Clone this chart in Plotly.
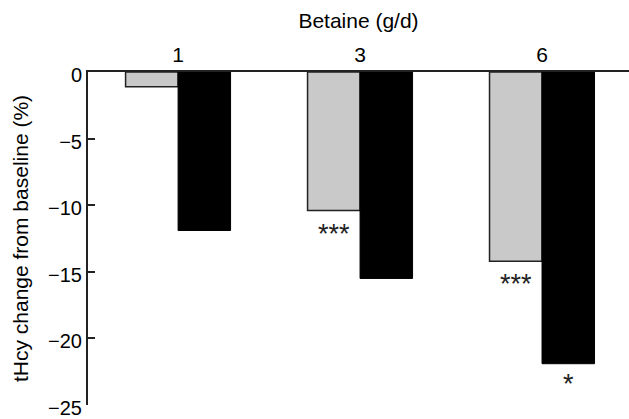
import plotly.graph_objects as go

doses = ["1", "3", "6"]
gray_vals = [-1.1, -10.4, -14.2]
black_vals = [-11.9, -15.5, -21.9]
gray_sig = ["", "***", "***"]
black_sig = ["", "", "*"]
y_ticks = [0, -5, -10, -15, -20, -25]

FONT = "Liberation Sans, Arial, Helvetica, sans-serif"
idx = list(range(len(doses)))
bargap = 0.423
bw = (1 - bargap) / 2

fig = go.Figure()
fig.add_trace(go.Bar(x=idx, y=gray_vals, marker=dict(color="#c9c9c9", line=dict(color="#222", width=1.5)),
                     showlegend=False))
fig.add_trace(go.Bar(x=idx, y=black_vals, marker=dict(color="#000000", line=dict(color="#000", width=1)),
                     showlegend=False))

for i, (g, b, gs, bs) in enumerate(zip(gray_vals, black_vals, gray_sig, black_sig)):
    if gs:
        fig.add_annotation(x=i - bw / 2, y=g, text=gs, showarrow=False, yanchor="top", yshift=-6,
                           font=dict(size=27, color="#222", family=FONT))
    if bs:
        fig.add_annotation(x=i + bw / 2, y=b, text=bs, showarrow=False, yanchor="top", yshift=-3,
                           font=dict(size=27, color="#222", family=FONT))

fig.update_layout(
    width=629, height=419,
    margin=dict(l=88, r=0, t=72, b=8),
    paper_bgcolor="white", plot_bgcolor="white",
    barmode="group", bargap=bargap, bargroupgap=0,
    font=dict(family=FONT, size=20, color="#000"),
    xaxis=dict(side="top", tickvals=idx, ticktext=doses, range=[-0.495, 2.478],
               showline=True, linecolor="#222", linewidth=1.5, ticks="", showgrid=False,
               zeroline=False, title=dict(text="Betaine (g/d)", font=dict(size=21), standoff=8),
               tickfont=dict(size=21)),
    yaxis=dict(range=[-25, 0], tickvals=y_ticks, showline=True, linecolor="#222", linewidth=2,
               ticks="inside", ticklen=7, tickwidth=1.5, tickcolor="#222", showgrid=False, zeroline=False,
               tickfont=dict(size=20), ticklabeloverflow="allow", ticklabelshift=3,
               title=dict(text="tHcy change from baseline (%)", font=dict(size=21), standoff=14)),
)

fig.write_html("out.html")
